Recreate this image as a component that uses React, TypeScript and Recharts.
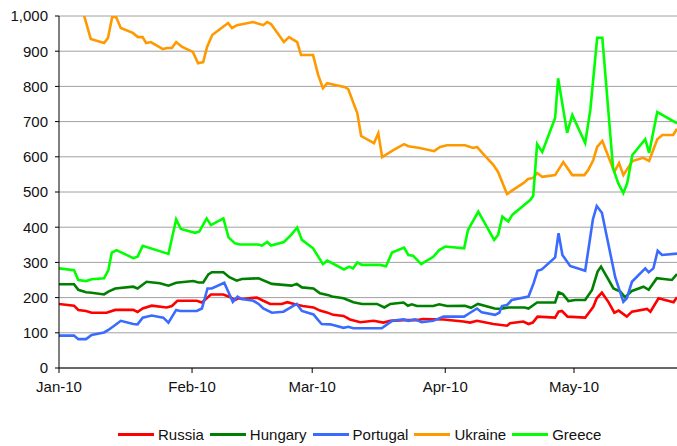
import React from "react";
import { CartesianGrid, Line, LineChart, XAxis, YAxis } from "recharts";

// x values are days since 1 Jan 2010
const monthTicks = [0, 31, 59, 90, 120];
const monthLabels = ["Jan-10", "Feb-10", "Mar-10", "Apr-10", "May-10"];
const yTicks = [0, 100, 200, 300, 400, 500, 600, 700, 800, 900, 1000];

const russiaDays = [0, 3.5, 4.5, 6.3, 7.6, 11.1, 13.1, 17.3, 18.3, 19.5, 21.6, 25.1, 26.3, 27.6, 32.1, 33.3, 35.4, 38.3, 39.9, 41, 41.8, 42.6, 46.1, 47.6, 49.2, 51.9, 53.2, 55, 56.8, 59.3, 60.8, 62.4, 63.9, 66.3, 67.8, 70.2, 73.3, 75.6, 77.2, 80.3, 83.4, 84.9, 89.6, 94.2, 95.8, 97.4, 101.2, 104.4, 105.1, 108.2, 109.4, 110.4, 111.5, 115.6, 116.4, 117.2, 118.5, 122.6, 124.5, 125.3, 126.5, 128, 129.4, 130.4, 132.3, 133.5, 137, 137.8, 139.7, 143.2, 144];
const russiaValues = [182, 177, 165, 162, 157, 157, 165, 165, 159, 169, 177, 172, 176, 191, 191, 186, 209, 209, 201, 193, 198, 196, 200, 191, 182, 182, 187, 181, 176, 172, 163, 158, 151, 148, 138, 130, 134, 129, 134, 136, 136, 139, 138, 132, 129, 134, 125, 120, 127, 132, 125, 129, 146, 143, 160, 162, 146, 143, 174, 198, 214, 188, 157, 163, 146, 160, 168, 160, 198, 187, 201];

const hungaryDays = [0, 3.5, 4.5, 6.3, 7.6, 10.5, 11.5, 13.1, 17.3, 18.3, 20.4, 23.5, 25.5, 27.3, 31.3, 32.5, 33.6, 34.8, 35.6, 38.3, 39.7, 41.4, 42.6, 46.5, 49.6, 54.2, 55.4, 56.6, 59.3, 60.8, 62.8, 63.6, 66.3, 68.6, 70.6, 74.1, 75.8, 77.2, 80.3, 81.3, 82.2, 83.4, 87.2, 88.6, 90.4, 94.6, 96, 97.6, 101.5, 102.8, 104.7, 108.5, 109.4, 111.4, 115.6, 116.4, 117.4, 118.7, 120.3, 122.6, 124.2, 125.5, 126.3, 129.2, 130.8, 131.9, 133.5, 136.2, 137.4, 139.3, 142.8, 144];
const hungaryValues = [238, 238, 222, 215, 214, 209, 217, 226, 231, 226, 245, 241, 234, 242, 247, 243, 243, 266, 272, 272, 258, 248, 253, 255, 239, 234, 239, 229, 226, 212, 207, 203, 198, 187, 182, 182, 172, 182, 186, 177, 181, 176, 176, 181, 176, 177, 171, 182, 169, 168, 172, 172, 169, 186, 186, 215, 210, 190, 193, 193, 222, 274, 288, 226, 217, 201, 219, 231, 222, 255, 250, 267];

const portugalDays = [0, 3.5, 4.5, 6.3, 7.6, 10.5, 11.5, 13.1, 14.4, 17.3, 18.3, 19.5, 21.6, 24.3, 25.5, 27.3, 28.2, 32.1, 33.3, 34.6, 35.6, 38.5, 40.5, 41.6, 42.6, 45.3, 46.5, 47.6, 49.6, 52.3, 53.8, 55.4, 56.6, 59.3, 60.4, 61.2, 63.2, 66.3, 67.4, 68.6, 75.2, 77.6, 80.3, 81.4, 83, 84.5, 87.2, 89.6, 94.4, 95.8, 97.4, 98.5, 101.6, 102.6, 103.2, 104.4, 105.5, 109.4, 110.6, 111.5, 112.5, 115.6, 116.4, 117.3, 119.1, 122.6, 123.4, 124.4, 125.3, 126.5, 129.6, 131.5, 132.3, 133.5, 136.6, 137.4, 138.5, 139.5, 140.5, 144];
const portugalValues = [92, 92, 82, 82, 94, 101, 108, 122, 134, 125, 124, 143, 149, 143, 129, 165, 162, 162, 169, 226, 226, 242, 188, 203, 196, 191, 182, 169, 157, 160, 171, 182, 162, 152, 136, 125, 124, 114, 117, 113, 113, 134, 138, 134, 138, 130, 134, 146, 146, 157, 169, 158, 151, 157, 176, 179, 193, 203, 241, 276, 280, 314, 383, 321, 290, 276, 340, 422, 460, 441, 258, 188, 198, 245, 283, 272, 283, 333, 321, 325];

const ukraineDays = [0, 7.4, 10.5, 11.4, 12.4, 13.3, 14.4, 17.2, 18.4, 19.5, 20.3, 21.4, 24.2, 25.2, 26.3, 27.3, 28.7, 31.2, 32.4, 33.6, 34.5, 35.7, 39.4, 40.3, 41.5, 45.2, 47.6, 48.5, 49.4, 52.4, 53.6, 55.5, 56.4, 59.2, 60.4, 61.5, 62.5, 66.7, 67.4, 69.5, 70.4, 73.4, 74.4, 75.3, 77.9, 80.4, 81.4, 84.1, 87.4, 88.8, 90.4, 94.6, 96.5, 97.4, 99.1, 101.2, 102.3, 104.4, 105.8, 108.2, 109.3, 110.5, 111.4, 112.6, 115.6, 117.5, 119.6, 122.4, 123.3, 124.5, 125.4, 126.6, 127.7, 129.4, 130.5, 131.5, 133.6, 136.1, 137.5, 139.4, 140.6, 143.1, 144];
const ukraineValues = [1250, 935, 923, 937, 997, 997, 966, 952, 940, 940, 923, 926, 906, 909, 909, 926, 912, 898, 866, 869, 912, 946, 980, 966, 974, 983, 974, 983, 977, 926, 940, 926, 889, 889, 832, 795, 809, 798, 792, 724, 659, 639, 667, 599, 619, 636, 630, 625, 616, 628, 633, 633, 625, 628, 605, 577, 557, 494, 506, 525, 537, 540, 554, 543, 548, 585, 548, 548, 562, 591, 628, 645, 611, 557, 582, 548, 588, 597, 588, 650, 662, 662, 680];

const greeceDays = [0, 3.5, 4.5, 6.3, 7.6, 10.5, 11.5, 12.3, 13.4, 17.3, 18.3, 19.5, 25.5, 27.3, 28.4, 31.7, 32.7, 34.4, 35.4, 38.3, 39.5, 41, 42.2, 46.4, 47.3, 48.5, 49.4, 52.4, 54.1, 55.5, 56.6, 59.2, 61.5, 62.5, 66.4, 67.6, 68.5, 69.5, 70.6, 74.8, 76.2, 77.6, 80.4, 81.4, 82.5, 84.4, 87.2, 88.6, 90, 94.4, 95.3, 97.7, 101.4, 102.3, 103.3, 104.7, 105.6, 108.4, 109.8, 110.5, 111.4, 112.6, 115.6, 116.3, 118.4, 119.6, 122.6, 123.8, 125.4, 126.6, 129.1, 130.3, 131.5, 132.4, 133.6, 136.6, 137.5, 139.4, 144];
const greeceValues = [283, 278, 250, 247, 252, 255, 278, 328, 335, 312, 316, 347, 324, 422, 395, 384, 388, 425, 406, 425, 371, 354, 351, 351, 348, 358, 348, 358, 378, 399, 364, 340, 295, 305, 280, 288, 283, 300, 293, 293, 289, 328, 342, 321, 319, 295, 316, 335, 345, 340, 392, 444, 364, 378, 430, 416, 435, 463, 477, 489, 636, 614, 710, 823, 668, 719, 639, 733, 938, 938, 568, 525, 497, 525, 605, 650, 611, 727, 695];

const zip = (days: number[], values: number[]) => days.map((day, i) => ({ day, v: values[i] }));

const series = [
  { name: "Russia", color: "#ff0000", data: zip(russiaDays, russiaValues) },
  { name: "Hungary", color: "#008000", data: zip(hungaryDays, hungaryValues) },
  { name: "Portugal", color: "#3a6bff", data: zip(portugalDays, portugalValues) },
  { name: "Ukraine", color: "#ff9900", data: zip(ukraineDays, ukraineValues) },
  { name: "Greece", color: "#00ff00", data: zip(greeceDays, greeceValues) }
];

const font = '"Liberation Sans", Arial, sans-serif';
const tickStyle = { fill: "#111", fontSize: 15, fontFamily: font };

export default function App() {
  return (
    <div style={{ position: "absolute", left: 0, top: 0, width: 677, height: 446, background: "#fff", fontFamily: font }}>
      <LineChart width={677} height={400} margin={{ top: 16, right: 0, bottom: 2, left: 0 }}>
        <CartesianGrid vertical={false} stroke="#a0a0a0" />
        <XAxis
          type="number"
          dataKey="day"
          domain={[0, 144]}
          ticks={monthTicks}
          tickFormatter={(d: number) => monthLabels[monthTicks.indexOf(d)] ?? ""}
          tick={tickStyle}
          tickSize={5}
          tickMargin={8}
          height={30}
          stroke="#000"
          allowDataOverflow
        />
        <YAxis
          domain={[0, 1000]}
          ticks={yTicks}
          tickFormatter={(v: number) => v.toLocaleString("en-US")}
          tick={tickStyle}
          tickSize={4}
          tickMargin={7}
          width={59}
          stroke="#000"
          allowDataOverflow
        />
        {series.map((s) => (
          <Line
            key={s.name}
            data={s.data}
            dataKey="v"
            name={s.name}
            type="linear"
            stroke={s.color}
            strokeWidth={2.6}
            dot={false}
            isAnimationActive={false}
          />
        ))}
      </LineChart>
      <div style={{ position: "absolute", left: 118, top: 426, display: "flex", alignItems: "center", fontSize: 15, color: "#111" }}>
        {series.map((s) => (
          <div key={s.name} style={{ display: "flex", alignItems: "center", marginRight: 6 }}>
            <div style={{ width: 36, height: 3, background: s.color, marginRight: 4 }} />
            <span>{s.name}</span>
          </div>
        ))}
      </div>
    </div>
  );
}
